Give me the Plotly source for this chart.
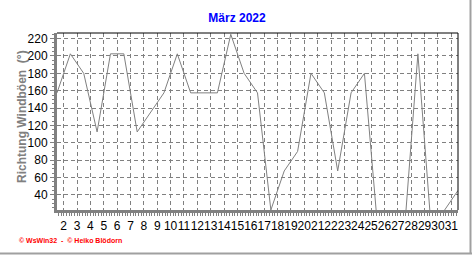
import plotly.graph_objects as go

# Data: daily wind gust direction (degrees), March 2022
days = list(range(1, 32))
direction = [157.5, 202.5, 180, 112.5, 202.5, 202.5, 112.5, 135, 157.5, 202.5,
             157.5, 157.5, 157.5, 225, 180, 157.5, 22.5, 67.5, 90, 180,
             157.5, 67.5, 157.5, 180, 0, 0, 0, 202.5, 0, 22.5, 45]
x_ticks = list(range(2, 32))
y_ticks = [40, 60, 80, 100, 120, 140, 160, 180, 200, 220]

title_text = "März 2022"
y_title = "Richtung Windböen  (°)"
footer = "© WsWin32  -  © Heiko Blödorn"

# plot area in pixels
W, H = 472, 255
L, R, T, B = 57, 458, 33, 210

def px(x):
    return (x - L) / (R - L)

def py(y):
    return (B - y) / (B - T)

fig = go.Figure()
fig.add_trace(go.Scatter(
    x=[d + 0.5 for d in days], y=direction, mode="lines",
    line=dict(color="#808080", width=1), hoverinfo="skip", showlegend=False))

grid = dict(showgrid=True, gridcolor="#808080", gridwidth=1, griddash="4px,3px")
fig.update_xaxes(
    range=[1.5, 31.5], tickmode="array", tickvals=x_ticks,
    ticktext=[str(v) for v in x_ticks], tickangle=0,
    ticks="outside", ticklen=3, tickcolor="#808080", tickwidth=1,
    showline=True, linecolor="#808080", linewidth=3,
    tickfont=dict(family="Liberation Sans, Arial", size=12, color="#000000"),
    minor=dict(dtick=0.2, tick0=0, ticks="outside", ticklen=3, tickcolor="#808080", showgrid=False),
    zeroline=False, **grid)
fig.update_yaxes(
    range=[22.5, 226.5], tickmode="array", tickvals=y_ticks,
    ticks="outside", ticklen=4, tickcolor="#808080", tickwidth=1,
    showline=True, linecolor="#808080", linewidth=3,
    tickfont=dict(family="Liberation Sans, Arial", size=12, color="#000000"),
    minor=dict(dtick=5, tick0=0, ticks="outside", ticklen=2, tickcolor="#808080", showgrid=False),
    zeroline=False, **grid)

fig.update_layout(
    width=W, height=H,
    margin=dict(l=L, r=W - R, t=T, b=H - B),
    paper_bgcolor="white", plot_bgcolor="white",
    title=dict(text="<b>" + title_text + "</b>", x=237 / W, xref="container", xanchor="center",
               y=1 - 18 / H, yref="container", yanchor="middle",
               font=dict(family="Liberation Sans, Arial", size=12, color="#0000FF")),
    shapes=[
        dict(type="line", xref="paper", yref="paper", x0=0, x1=1, y0=1, y1=1,
             line=dict(color="black", width=1)),
        dict(type="line", xref="paper", yref="paper", x0=1, x1=1, y0=0, y1=1,
             line=dict(color="black", width=1)),
        dict(type="line", xref="paper", yref="paper", x0=px(0), x1=px(W), y0=py(253.5), y1=py(253.5),
             line=dict(color="#a0a0a0", width=2)),
        dict(type="line", xref="paper", yref="paper", x0=px(470.5), x1=px(470.5), y0=py(0), y1=py(254),
             line=dict(color="#a0a0a0", width=2)),
    ],
    annotations=[
        dict(text="<b>" + y_title + "</b>", x=px(22), y=py(117), xref="paper", yref="paper",
             textangle=-90, showarrow=False, xanchor="center", yanchor="middle",
             font=dict(family="Liberation Sans, Arial", size=12, color="#808080")),
        dict(text="<b>" + footer + "</b>", x=px(17), y=py(240), xref="paper", yref="paper",
             showarrow=False, xanchor="left", yanchor="middle",
             font=dict(family="Liberation Sans, Arial", size=7, color="#FF0000")),
    ],
)

fig.write_html("out.html")
